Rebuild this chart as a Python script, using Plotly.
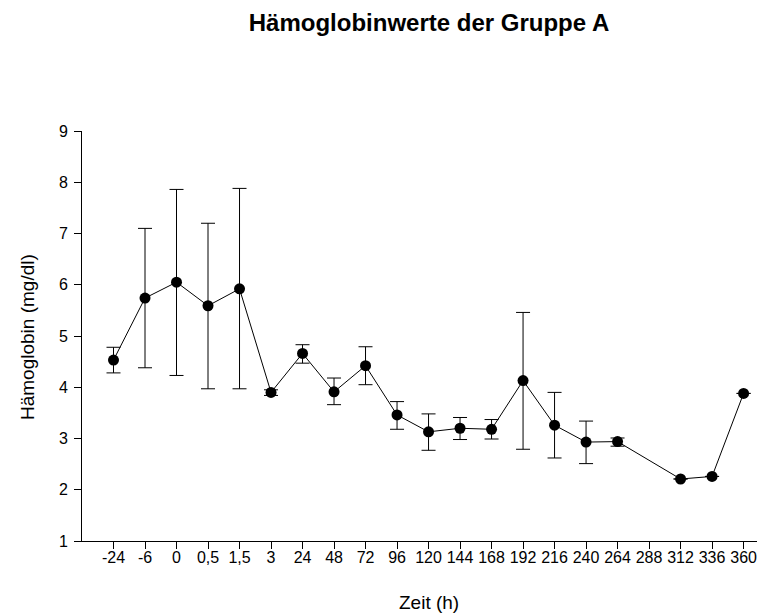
import plotly.graph_objects as go

categories = ["-24", "-6", "0", "0,5", "1,5", "3", "24", "48", "72", "96", "120",
              "144", "168", "192", "216", "240", "264", "288", "312", "336", "360"]
values = [4.53, 5.74, 6.05, 5.59, 5.92, 3.90, 4.66, 3.91, 4.42, 3.46, 3.13,
          3.20, 3.18, 4.13, 3.26, 2.93, 2.94, None, 2.21, 2.26, 3.88]
err_plus = [0.25, 1.36, 1.81, 1.61, 1.96, 0.05, 0.17, 0.27, 0.37, 0.26, 0.35,
            0.21, 0.19, 1.33, 0.64, 0.41, 0.07, 0, 0, 0, 0]
err_minus = [0.25, 1.36, 1.82, 1.62, 1.95, 0.06, 0.19, 0.25, 0.37, 0.28, 0.36,
             0.22, 0.19, 1.34, 0.64, 0.42, 0.09, 0, 0, 0, 0]
y_ticks = [1, 2, 3, 4, 5, 6, 7, 8, 9]

x_idx = list(range(len(categories)))
FONT = "Liberation Sans, Arial, sans-serif"

# page has an 8px body margin; figure sized to fit the 765x616 window
W, H = 757, 608
L, T, B = 74, 123, 75
PW, PH = W - L, H - T - B

fig = go.Figure()
fig.add_trace(go.Scatter(
    x=x_idx, y=values, mode="lines+markers", connectgaps=True,
    line=dict(color="black", width=1),
    marker=dict(color="black", size=11),
    error_y=dict(type="data", symmetric=False, array=err_plus, arrayminus=err_minus,
                 color="black", thickness=1, width=7),
    showlegend=False,
))

fig.update_layout(
    width=W, height=H,
    margin=dict(l=L, r=0, t=T, b=B),
    plot_bgcolor="white", paper_bgcolor="white",
    font=dict(family=FONT, color="black", size=16),
    title=dict(text="<b>Hämoglobinwerte der Gruppe A</b>", x=421 / W, xanchor="center",
               y=1 - 15 / H, yanchor="middle", font=dict(size=24, family=FONT)),
    xaxis=dict(range=[-1, 20.68], tickvals=x_idx, ticktext=categories,
               showline=True, linecolor="black", linewidth=1, ticks="outside",
               ticklen=7, tickcolor="black", showgrid=False, zeroline=False,
               tickfont=dict(size=16), ticklabelstandoff=-5),
    yaxis=dict(range=[1, 9], tickvals=y_ticks, showline=True, linecolor="black",
               linewidth=1, ticks="outside", ticklen=7, tickcolor="black",
               showgrid=False, zeroline=False, tickfont=dict(size=16),
               ticklabelstandoff=3),
    annotations=[
        dict(text="Hämoglobin (mg/dl)", xref="paper", yref="paper",
             x=(19 - L) / PW, y=(533 - 329) / PH, textangle=-90, showarrow=False,
             xanchor="center", yanchor="middle", font=dict(size=19)),
        dict(text="Zeit (h)", xref="paper", yref="paper",
             x=(421 - L) / PW, y=-(594 - 533) / PH, showarrow=False,
             xanchor="center", yanchor="middle", font=dict(size=19)),
    ],
)

fig.write_html("out.html")
